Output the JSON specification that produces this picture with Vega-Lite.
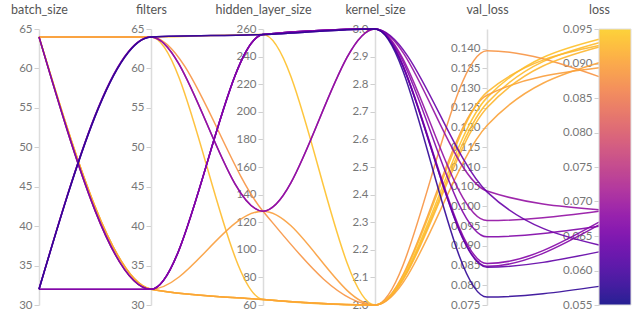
{
  "$schema": "https://vega.github.io/schema/vega-lite/v6.json",
  "width": 560,
  "height": 276,
  "autosize": {"type": "none"},
  "padding": {"left": 39, "top": 29, "right": 43, "bottom": 15},
  "background": "white",
  "config": {
    "view": {"stroke": null},
    "font": "Lato",
    "axis": {
      "domainColor": "#dcdcdc",
      "domainWidth": 1.5,
      "tickColor": "#cfcfcf",
      "tickSize": 5,
      "labelColor": "#777777",
      "labelFontSize": 11.5,
      "labelFont": "Lato",
      "labelPadding": 2,
      "titleFont": "Lato",
      "titleFontSize": 12.5,
      "titleFontWeight": "normal",
      "titleColor": "#555555",
      "titleAngle": 0,
      "titleX": 0,
      "titleY": -16,
      "titleAlign": "center",
      "titleBaseline": "alphabetic",
      "grid": false
    }
  },
  "datasets": {
    "runs": [
      {"run": "r1", "batch_size": 64, "filters": 64, "hidden_layer_size": 256, "kernel_size": 2, "val_loss": 0.1276, "loss": 0.0935},
      {"run": "r2", "batch_size": 64, "filters": 64, "hidden_layer_size": 64, "kernel_size": 2, "val_loss": 0.1262, "loss": 0.0930},
      {"run": "r3", "batch_size": 64, "filters": 64, "hidden_layer_size": 128, "kernel_size": 2, "val_loss": 0.1395, "loss": 0.0881},
      {"run": "r4", "batch_size": 64, "filters": 32, "hidden_layer_size": 128, "kernel_size": 2, "val_loss": 0.1282, "loss": 0.0894},
      {"run": "r5", "batch_size": 64, "filters": 32, "hidden_layer_size": 64, "kernel_size": 2, "val_loss": 0.1290, "loss": 0.0926},
      {"run": "r6", "batch_size": 64, "filters": 32, "hidden_layer_size": 64, "kernel_size": 2, "val_loss": 0.1250, "loss": 0.0924},
      {"run": "r7", "batch_size": 64, "filters": 32, "hidden_layer_size": 64, "kernel_size": 2, "val_loss": 0.1205, "loss": 0.0901},
      {"run": "r8", "batch_size": 32, "filters": 64, "hidden_layer_size": 128, "kernel_size": 3, "val_loss": 0.1039, "loss": 0.0688},
      {"run": "r9", "batch_size": 32, "filters": 64, "hidden_layer_size": 128, "kernel_size": 3, "val_loss": 0.0964, "loss": 0.0686},
      {"run": "r10", "batch_size": 64, "filters": 32, "hidden_layer_size": 256, "kernel_size": 3, "val_loss": 0.1037, "loss": 0.0637},
      {"run": "r11", "batch_size": 32, "filters": 32, "hidden_layer_size": 256, "kernel_size": 3, "val_loss": 0.0923, "loss": 0.0664},
      {"run": "r12", "batch_size": 64, "filters": 32, "hidden_layer_size": 256, "kernel_size": 3, "val_loss": 0.0855, "loss": 0.0670},
      {"run": "r13", "batch_size": 32, "filters": 32, "hidden_layer_size": 256, "kernel_size": 3, "val_loss": 0.0848, "loss": 0.0666},
      {"run": "r14", "batch_size": 32, "filters": 64, "hidden_layer_size": 256, "kernel_size": 3, "val_loss": 0.0846, "loss": 0.0627},
      {"run": "r15", "batch_size": 32, "filters": 64, "hidden_layer_size": 256, "kernel_size": 3, "val_loss": 0.0770, "loss": 0.0577}
    ],
    "dims": [
      {"dim": "batch_size", "idx": 0, "lo": 30, "hi": 65},
      {"dim": "filters", "idx": 1, "lo": 30, "hi": 65},
      {"dim": "hidden_layer_size", "idx": 2, "lo": 60, "hi": 260},
      {"dim": "kernel_size", "idx": 3, "lo": 2, "hi": 3},
      {"dim": "val_loss", "idx": 4, "lo": 0.075, "hi": 0.145},
      {"dim": "loss", "idx": 5, "lo": 0.055, "hi": 0.095}
    ]
  },
  "data": {"name": "runs"},
  "layer": [
    {
      "transform": [
        {"fold": ["batch_size", "filters", "hidden_layer_size", "kernel_size", "val_loss", "loss"], "as": ["dim", "v"]},
        {"lookup": "dim", "from": {"data": {"name": "dims"}, "key": "dim", "fields": ["idx", "lo", "hi"]}},
        {"calculate": "(datum.v - datum.lo) / (datum.hi - datum.lo)", "as": "norm"}
      ],
      "mark": {"type": "line", "interpolate": "monotone", "strokeWidth": 1.5, "opacity": 0.9},
      "encoding": {
        "x": {"field": "dim", "type": "nominal", "scale": {"type": "point", "padding": 0, "domain": ["batch_size", "filters", "hidden_layer_size", "kernel_size", "val_loss", "loss"]}, "axis": null},
        "y": {"field": "norm", "type": "quantitative", "scale": {"domain": [0, 1], "nice": false, "zero": false}, "axis": null},
        "detail": {"field": "run", "type": "nominal"},
        "order": {"field": "idx", "type": "quantitative"},
        "color": {
          "field": "loss", "type": "quantitative",
          "scale": {"scheme": {"name": "plasma", "extent": [0, 0.9]}, "domain": [0.055, 0.095]},
          "legend": {"orient": "none", "legendX": 560, "legendY": 0, "direction": "vertical", "gradientLength": 276, "gradientThickness": 32, "title": null, "labelExpr": "''", "labelOpacity": 0, "labelFontSize": 1, "gradientStrokeColor": "#dddddd", "gradientStrokeWidth": 1}
        }
      }
    },
    {
      "mark": {"type": "point", "opacity": 0},
      "encoding": {"y": {"field": "batch_size", "type": "quantitative", "scale": {"domain": [30, 65], "nice": false, "zero": false},
        "axis": {"orient": "left", "offset": 0, "title": "batch_size", "values": [30, 35, 40, 45, 50, 55, 60, 65]}}}
    },
    {
      "mark": {"type": "point", "opacity": 0},
      "encoding": {"y": {"field": "filters", "type": "quantitative", "scale": {"domain": [30, 65], "nice": false, "zero": false},
        "axis": {"orient": "left", "offset": -112, "title": "filters", "values": [30, 35, 40, 45, 50, 55, 60, 65]}}}
    },
    {
      "mark": {"type": "point", "opacity": 0},
      "encoding": {"y": {"field": "hidden_layer_size", "type": "quantitative", "scale": {"domain": [60, 260], "nice": false, "zero": false},
        "axis": {"orient": "left", "offset": -224, "title": "hidden_layer_size", "values": [60, 80, 100, 120, 140, 160, 180, 200, 220, 240, 260]}}}
    },
    {
      "mark": {"type": "point", "opacity": 0},
      "encoding": {"y": {"field": "kernel_size", "type": "quantitative", "scale": {"domain": [2, 3], "nice": false, "zero": false},
        "axis": {"orient": "left", "offset": -336, "title": "kernel_size", "format": ".1f", "values": [2, 2.1, 2.2, 2.3, 2.4, 2.5, 2.6, 2.7, 2.8, 2.9, 3]}}}
    },
    {
      "mark": {"type": "point", "opacity": 0},
      "encoding": {"y": {"field": "val_loss", "type": "quantitative", "scale": {"domain": [0.075, 0.145], "nice": false, "zero": false},
        "axis": {"orient": "left", "offset": -448, "title": "val_loss", "format": ".3f", "values": [0.075, 0.08, 0.085, 0.09, 0.095, 0.1, 0.105, 0.11, 0.115, 0.12, 0.125, 0.13, 0.135, 0.14]}}}
    },
    {
      "mark": {"type": "point", "opacity": 0},
      "encoding": {"y": {"field": "loss", "type": "quantitative", "scale": {"domain": [0.055, 0.095], "nice": false, "zero": false},
        "axis": {"orient": "left", "offset": -560, "title": "loss", "format": ".3f", "values": [0.055, 0.06, 0.065, 0.07, 0.075, 0.08, 0.085, 0.09, 0.095]}}}
    }
  ],
  "resolve": {"scale": {"y": "independent"}, "axis": {"y": "independent"}}
}
